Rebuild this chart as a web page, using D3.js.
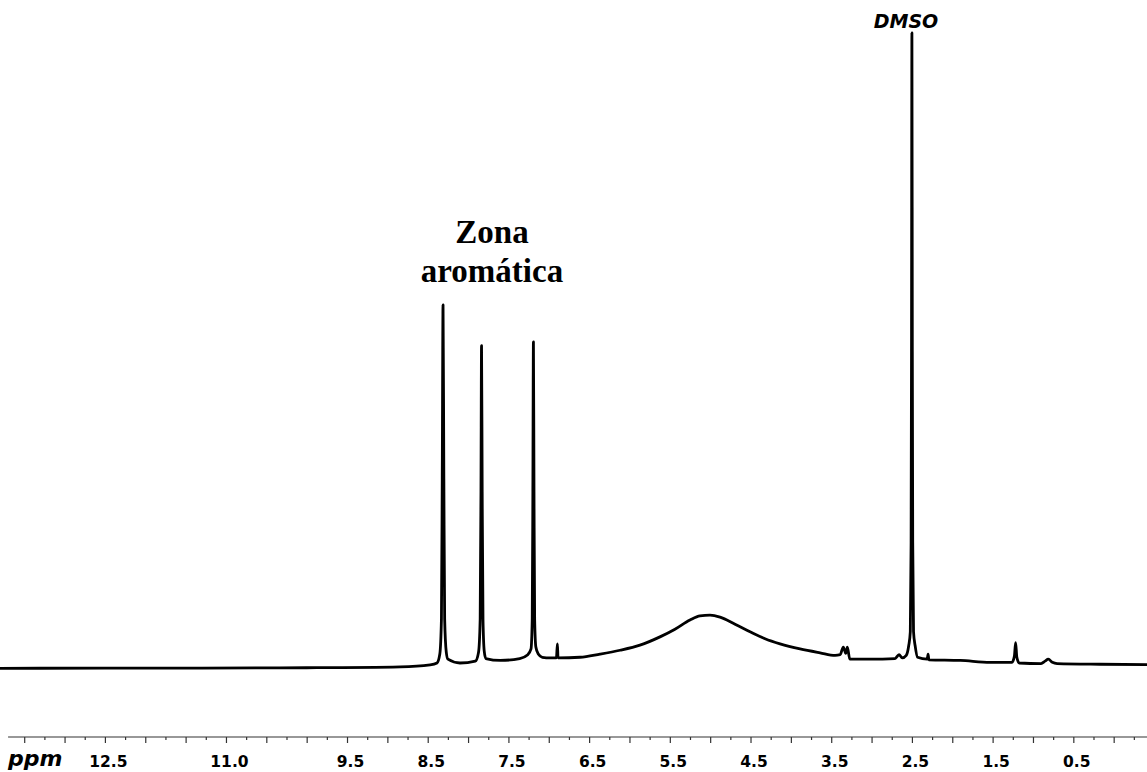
<!DOCTYPE html>
<html>
<head>
<meta charset="utf-8">
<script src="https://cdn.jsdelivr.net/npm/d3@7"></script>
<style>
  body { margin: 0; background: #fff; }
  svg { display: block; }
</style>
</head>
<body>
<div class="spectrum"></div>
<script>
// chemical shift (ppm), left to right
var shifts = [
  13.80, 12.50, 11.30, 10.00, 8.84, 8.47, 8.385, 8.35, 8.33, 8.32, 8.31, 8.30, 8.29, 8.27, 8.25,
  8.10, 7.91, 7.87, 7.85, 7.84, 7.833, 7.825, 7.815, 7.80, 7.78, 7.60, 7.36,
  7.26, 7.22, 7.205, 7.197, 7.19, 7.183, 7.175, 7.16, 7.13, 7.08, 6.98,
  6.905, 6.893, 6.885, 6.613, 6.365, 6.117, 5.870, 5.622, 5.436, 5.250, 5.126, 5.002,
  4.878, 4.692, 4.506, 4.320, 4.134, 3.886, 3.638, 3.452,
  3.39, 3.35, 3.32, 3.30, 3.27, 3.02, 2.71, 2.66, 2.62,
  2.57, 2.54, 2.52, 2.51, 2.505, 2.50, 2.495, 2.49, 2.48, 2.46, 2.43,
  2.31, 2.30, 2.29, 1.90, 1.53, 1.26, 1.23, 1.215, 1.20, 1.17,
  0.90, 0.85, 0.81, 0.76, 0.70, 0.17, -0.413
];
// relative intensity (DMSO = 100)
var intensities = [
  0.25, 0.3, 0.3, 0.35, 0.5, 0.8, 1.1, 2.5, 8, 30, 57.3, 30, 8, 2.8, 1.7,
  1.1, 1.4, 2.8, 8, 28, 50.9, 28, 8, 3.0, 1.8, 1.5, 1.8,
  2.4, 3.3, 8, 28, 51.5, 28, 8, 3.6, 2.5, 2.0, 1.9,
  1.9, 4.1, 1.9, 2.0, 2.5, 3.1, 3.9, 5.2, 6.4, 7.85, 8.5, 8.6,
  8.3, 7.2, 6.0, 4.9, 4.1, 3.3, 2.7, 2.3,
  2.4, 3.6, 2.6, 3.6, 1.7, 1.7, 1.8, 2.4, 1.9,
  2.3, 3.8, 6, 20, 50, 100, 50, 20, 6, 3.8, 2.0,
  1.7, 2.5, 1.6, 1.5, 1.2, 1.2, 2.2, 4.3, 2.0, 1.1,
  1.0, 1.4, 1.7, 1.2, 1.0, 0.9, 0.85
];

var majorTicks = [13.5, 13.0, 12.5, 12.0, 11.5, 11.0, 10.5, 10.0, 9.5, 9.0, 8.5, 8.0, 7.5, 7.0,
                  6.5, 6.0, 5.5, 5.0, 4.5, 4.0, 3.5, 3.0, 2.5, 2.0, 1.5, 1.0, 0.5, 0.0];
var minorTicks = [13.25, 12.75, 12.25, 11.75, 11.25, 10.75, 10.25, 9.75, 9.25, 8.75, 8.25, 7.75,
                  7.25, 6.75, 6.25, 5.75, 5.25, 4.75, 4.25, 3.75, 3.25, 2.75, 2.25, 1.75, 1.25,
                  0.75, 0.25, -0.25];
var tickLabels = ["12.5", "11.0", "9.5", "8.5", "7.5", "6.5", "5.5", "4.5", "3.5", "2.5", "1.5", "0.5"];

var width = 1147, height = 772;

var svg = d3.select(".spectrum").append("svg")
    .attr("width", width)
    .attr("height", height);

var x = d3.scaleLinear().domain([13.80, -0.413]).range([0, width]);
var y = d3.scaleLinear().domain([0, 100]).range([670, 33]);

var points = shifts.map(function(s, i) { return [s, intensities[i]]; });

var line = d3.line()
    .x(function(d) { return x(d[0]); })
    .y(function(d) { return y(d[1]); })
    .curve(d3.curveMonotoneX);

svg.append("path")
    .datum(points)
    .attr("fill", "none")
    .attr("stroke", "#000")
    .attr("stroke-width", 2.8)
    .attr("stroke-linejoin", "round")
    .attr("d", line);

// axis
var axisY = 737;
svg.append("line")
    .attr("x1", x(13.7)).attr("x2", width)
    .attr("y1", axisY).attr("y2", axisY)
    .attr("stroke", "#333").attr("stroke-width", 1.2);

var minorAxis = d3.axisBottom(x).tickValues(minorTicks).tickSize(3).tickFormat("");
var majorAxis = d3.axisBottom(x).tickValues(majorTicks).tickSize(6)
    .tickFormat(function(d) {
        var s = d3.format(".1f")(d);
        return tickLabels.indexOf(s) >= 0 ? s : "";
    });

[minorAxis, majorAxis].forEach(function(ax) {
    var g = svg.append("g").attr("transform", "translate(0," + axisY + ")").call(ax);
    g.select(".domain").remove();
    g.selectAll(".tick line").attr("stroke", "#333").attr("stroke-width", 1.2);
    g.selectAll(".tick text")
        .attr("y", 29.5).attr("dy", 0).attr("dx", 3)
        .attr("fill", "#000")
        .style("font-family", "'DejaVu Sans', Verdana, sans-serif")
        .style("font-weight", "bold")
        .style("font-size", "15.5px");
});

svg.append("text")
    .attr("x", 8).attr("y", 766)
    .style("font-family", "'DejaVu Sans', Verdana, sans-serif")
    .style("font-weight", "bold").style("font-style", "italic")
    .style("font-size", "22px")
    .text("ppm");

// annotations
svg.append("text")
    .attr("x", 906).attr("y", 28)
    .attr("text-anchor", "middle")
    .style("font-family", "'DejaVu Sans', Verdana, sans-serif")
    .style("font-weight", "bold").style("font-style", "italic")
    .style("font-size", "19px")
    .text("DMSO");

var zona = svg.append("text")
    .attr("text-anchor", "middle")
    .style("font-family", "'Liberation Serif', 'Times New Roman', serif")
    .style("font-weight", "bold")
    .style("font-size", "33px");
zona.append("tspan").attr("x", 492).attr("y", 243).text("Zona");
zona.append("tspan").attr("x", 492).attr("y", 282).text("aromática");
</script>
</body>
</html>
